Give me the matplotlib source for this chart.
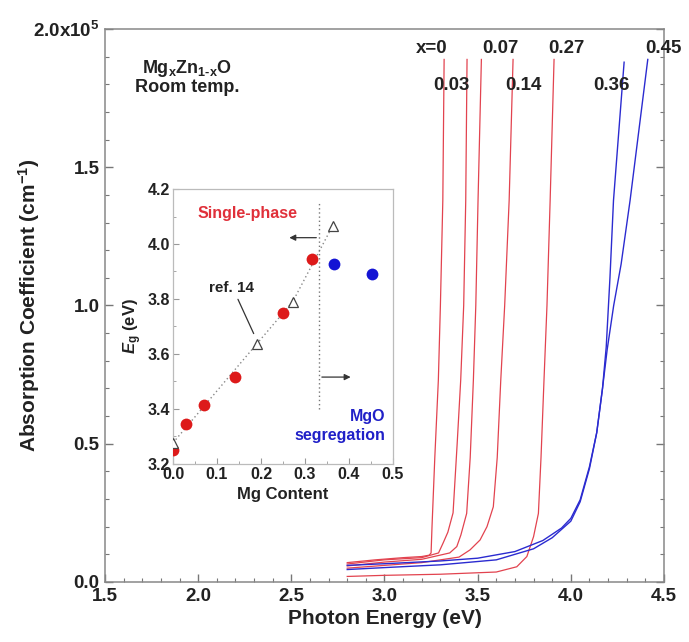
import matplotlib
matplotlib.use("Agg")
import matplotlib.pyplot as plt
from matplotlib.ticker import MultipleLocator, FuncFormatter

plt.rcParams['font.family'] = ['Liberation Sans', 'DejaVu Sans']
plt.rcParams['font.weight'] = 'bold'
plt.rcParams['axes.labelweight'] = 'bold'
plt.rcParams['mathtext.fontset'] = 'custom'
plt.rcParams['mathtext.rm'] = 'Liberation Sans:bold'
plt.rcParams['mathtext.bf'] = 'Liberation Sans:bold'
plt.rcParams['mathtext.it'] = 'Liberation Sans:bold:italic'
plt.rcParams['mathtext.default'] = 'bf'

TXT = '#222222'

# absorption spectra, energy in eV, alpha in units of 1e5 cm^-1
e_x000 = [2.80, 2.95, 3.10, 3.20, 3.240, 3.250, 3.255, 3.270, 3.289, 3.300, 3.313, 3.320]
a_x000 = [0.070, 0.080, 0.088, 0.092, 0.097, 0.105, 0.20, 0.45, 0.73, 1.00, 1.38, 1.89]

e_x003 = [2.80, 3.00, 3.20, 3.29, 3.314, 3.340, 3.368, 3.390, 3.409, 3.425, 3.436, 3.443]
a_x003 = [0.065, 0.080, 0.088, 0.105, 0.140, 0.180, 0.250, 0.50, 0.73, 1.00, 1.38, 1.89]

e_x007 = [2.80, 3.00, 3.20, 3.35, 3.388, 3.410, 3.441, 3.460, 3.477, 3.490, 3.502, 3.520]
a_x007 = [0.058, 0.072, 0.082, 0.105, 0.128, 0.170, 0.248, 0.45, 0.73, 1.00, 1.38, 1.89]

e_x014 = [2.80, 3.00, 3.20, 3.40, 3.459, 3.513, 3.550, 3.584, 3.605, 3.624, 3.645, 3.669, 3.690]
a_x014 = [0.050, 0.060, 0.070, 0.090, 0.116, 0.152, 0.200, 0.272, 0.45, 0.73, 1.00, 1.38, 1.89]

e_x027 = [2.80, 3.00, 3.30, 3.60, 3.710, 3.764, 3.800, 3.826, 3.840, 3.856, 3.872, 3.889, 3.910]
a_x027 = [0.020, 0.024, 0.028, 0.036, 0.055, 0.092, 0.164, 0.248, 0.45, 0.73, 1.00, 1.38, 1.89]

e_x036 = [2.80, 3.00, 3.30, 3.50, 3.70, 3.85, 3.95, 4.00, 4.05, 4.10, 4.139, 4.170, 4.190, 4.210, 4.229, 4.286]
a_x036 = [0.060, 0.066, 0.076, 0.086, 0.110, 0.150, 0.195, 0.230, 0.297, 0.417, 0.54, 0.70, 0.85, 1.10, 1.38, 1.88]

e_x045 = [2.80, 3.00, 3.30, 3.60, 3.80, 3.90, 4.00, 4.05, 4.10, 4.139, 4.170, 4.195, 4.230, 4.270, 4.318, 4.413]
a_x045 = [0.045, 0.052, 0.062, 0.080, 0.120, 0.160, 0.220, 0.290, 0.410, 0.54, 0.70, 0.84, 1.00, 1.15, 1.38, 1.89]

red_curves = [(e_x000, a_x000), (e_x003, a_x003), (e_x007, a_x007), (e_x014, a_x014), (e_x027, a_x027)]
blue_curves = [(e_x036, a_x036), (e_x045, a_x045)]

# curve labels: text, energy, alpha
curve_labels = [("x=0", 3.254, 1.931), ("0.07", 3.62, 1.931), ("0.27", 3.978, 1.931), ("0.45", 4.495, 1.931),
                ("0.03", 3.361, 1.797), ("0.14", 3.745, 1.797), ("0.36", 4.22, 1.797)]

# band gap vs Mg content
mg_single = [0.00, 0.03, 0.07, 0.14, 0.25, 0.317]
eg_single = [3.25, 3.344, 3.415, 3.515, 3.748, 3.945]
mg_segr = [0.366, 0.452]
eg_segr = [3.927, 3.89]
mg_ref14 = [0.00, 0.19, 0.272, 0.363]
eg_ref14 = [3.277, 3.636, 3.79, 4.067]
mg_limit = 0.332

fig = plt.figure(figsize=(6.89, 6.42), dpi=100)
ax = fig.add_axes([0.1524, 0.0935, 0.8113, 0.8613])

for e, a in red_curves:
    ax.plot(e, a, color='#e2434f', lw=0.9)
for e, a in blue_curves:
    ax.plot(e, a, color='#2b2bd0', lw=1.0)

for txt, x, y in curve_labels:
    ax.text(x, y, txt, ha='center', va='center', fontsize=13.5, color=TXT)

ax.text(1.94, 1.859, r"Mg$_\mathbf{x}$Zn$_\mathbf{1\text{-}x}$O", ha='center', va='center',
        fontsize=13, color=TXT)
ax.text(1.94, 1.787, "Room temp.", ha='center', va='center', fontsize=13, color=TXT)

ax.set_xlim(1.5, 4.5)
ax.set_ylim(0, 2.0)
ax.xaxis.set_major_locator(MultipleLocator(0.5))
ax.xaxis.set_minor_locator(MultipleLocator(0.1))
ax.yaxis.set_major_locator(MultipleLocator(0.5))
ax.yaxis.set_minor_locator(MultipleLocator(0.1))
ax.yaxis.set_major_formatter(FuncFormatter(
    lambda v, p: r"2.0x10$^5$" if abs(v - 2.0) < 1e-6 else f"{v:.1f}"))
ax.tick_params(which='both', direction='in', top=False, right=True, colors='#777777',
               labelcolor=TXT, labelsize=13.5, pad=4)
ax.tick_params(which='major', length=6, width=1)
ax.tick_params(which='minor', length=3, width=0.8)
for s in ax.spines.values():
    s.set_color('#888888')
    s.set_linewidth(1.1)
ax.set_xlabel("Photon Energy (eV)", fontsize=15, color=TXT, labelpad=3)
ax.set_ylabel(r"Absorption Coefficient (cm$^{-1}$)", fontsize=15, color=TXT)
ax.yaxis.set_label_coords(-0.112, 0.5)

# inset: band gap
ins = fig.add_axes([0.2511, 0.2773, 0.3193, 0.4283])
ins.plot(mg_ref14, eg_ref14, ls=(0, (1, 2)), color='#888888', lw=1.0, zorder=1)
ins.plot(mg_single, eg_single, 'o', color='#dd1a1a', ms=8.5, mec='none', zorder=3)
ins.plot(mg_segr, eg_segr, 'o', color='#1414d4', ms=8.5, mec='none', zorder=3)
ins.plot(mg_ref14, eg_ref14, '^', mfc='white', mec='#444444', ms=7, mew=0.9, zorder=4)
ins.plot([mg_limit, mg_limit], [3.40, 4.15], ls=(0, (1, 2)), color='#777777', lw=1.0)
ins.annotate("", xy=(0.258, 4.023), xytext=(mg_limit, 4.023),
             arrowprops=dict(arrowstyle='-|>', color='#333333', lw=0.9, mutation_scale=9))
ins.annotate("", xy=(0.41, 3.516), xytext=(mg_limit, 3.516),
             arrowprops=dict(arrowstyle='-|>', color='#333333', lw=0.9, mutation_scale=9))
ins.annotate("", xy=(0.186, 3.665), xytext=(0.145, 3.808),
             arrowprops=dict(arrowstyle='-', color='#333333', lw=0.9))
ins.text(0.133, 3.84, "ref. 14", ha='center', va='center', fontsize=11, color=TXT)
ins.text(0.17, 4.11, "Single-phase", ha='center', va='center', fontsize=11.5, color='#e0303a')
ins.text(0.482, 3.371, "MgO", ha='right', va='center', fontsize=11.5, color='#2020c8')
ins.text(0.482, 3.305, "segregation", ha='right', va='center', fontsize=11.5, color='#2020c8')

ins.set_xlim(0, 0.5)
ins.set_ylim(3.2, 4.2)
ins.xaxis.set_major_locator(MultipleLocator(0.1))
ins.xaxis.set_minor_locator(MultipleLocator(0.05))
ins.yaxis.set_major_locator(MultipleLocator(0.2))
ins.yaxis.set_minor_locator(MultipleLocator(0.1))
ins.xaxis.set_major_formatter(FuncFormatter(lambda v, p: f"{v:.1f}"))
ins.yaxis.set_major_formatter(FuncFormatter(lambda v, p: f"{v:.1f}"))
ins.tick_params(which='both', direction='in', colors='#999999', labelcolor=TXT,
                labelsize=11.5, pad=2)
ins.tick_params(which='major', length=4, width=0.8)
ins.tick_params(which='minor', length=2, width=0.6)
for s in ins.spines.values():
    s.set_color('#bbbbbb')
    s.set_linewidth(0.9)
ins.set_xlabel("Mg Content", fontsize=12, color=TXT, labelpad=4)
ins.set_ylabel(r"$\mathit{E}_\mathbf{g}$ (eV)", fontsize=12, color=TXT, labelpad=3)

fig.savefig("out.png", dpi=100)
